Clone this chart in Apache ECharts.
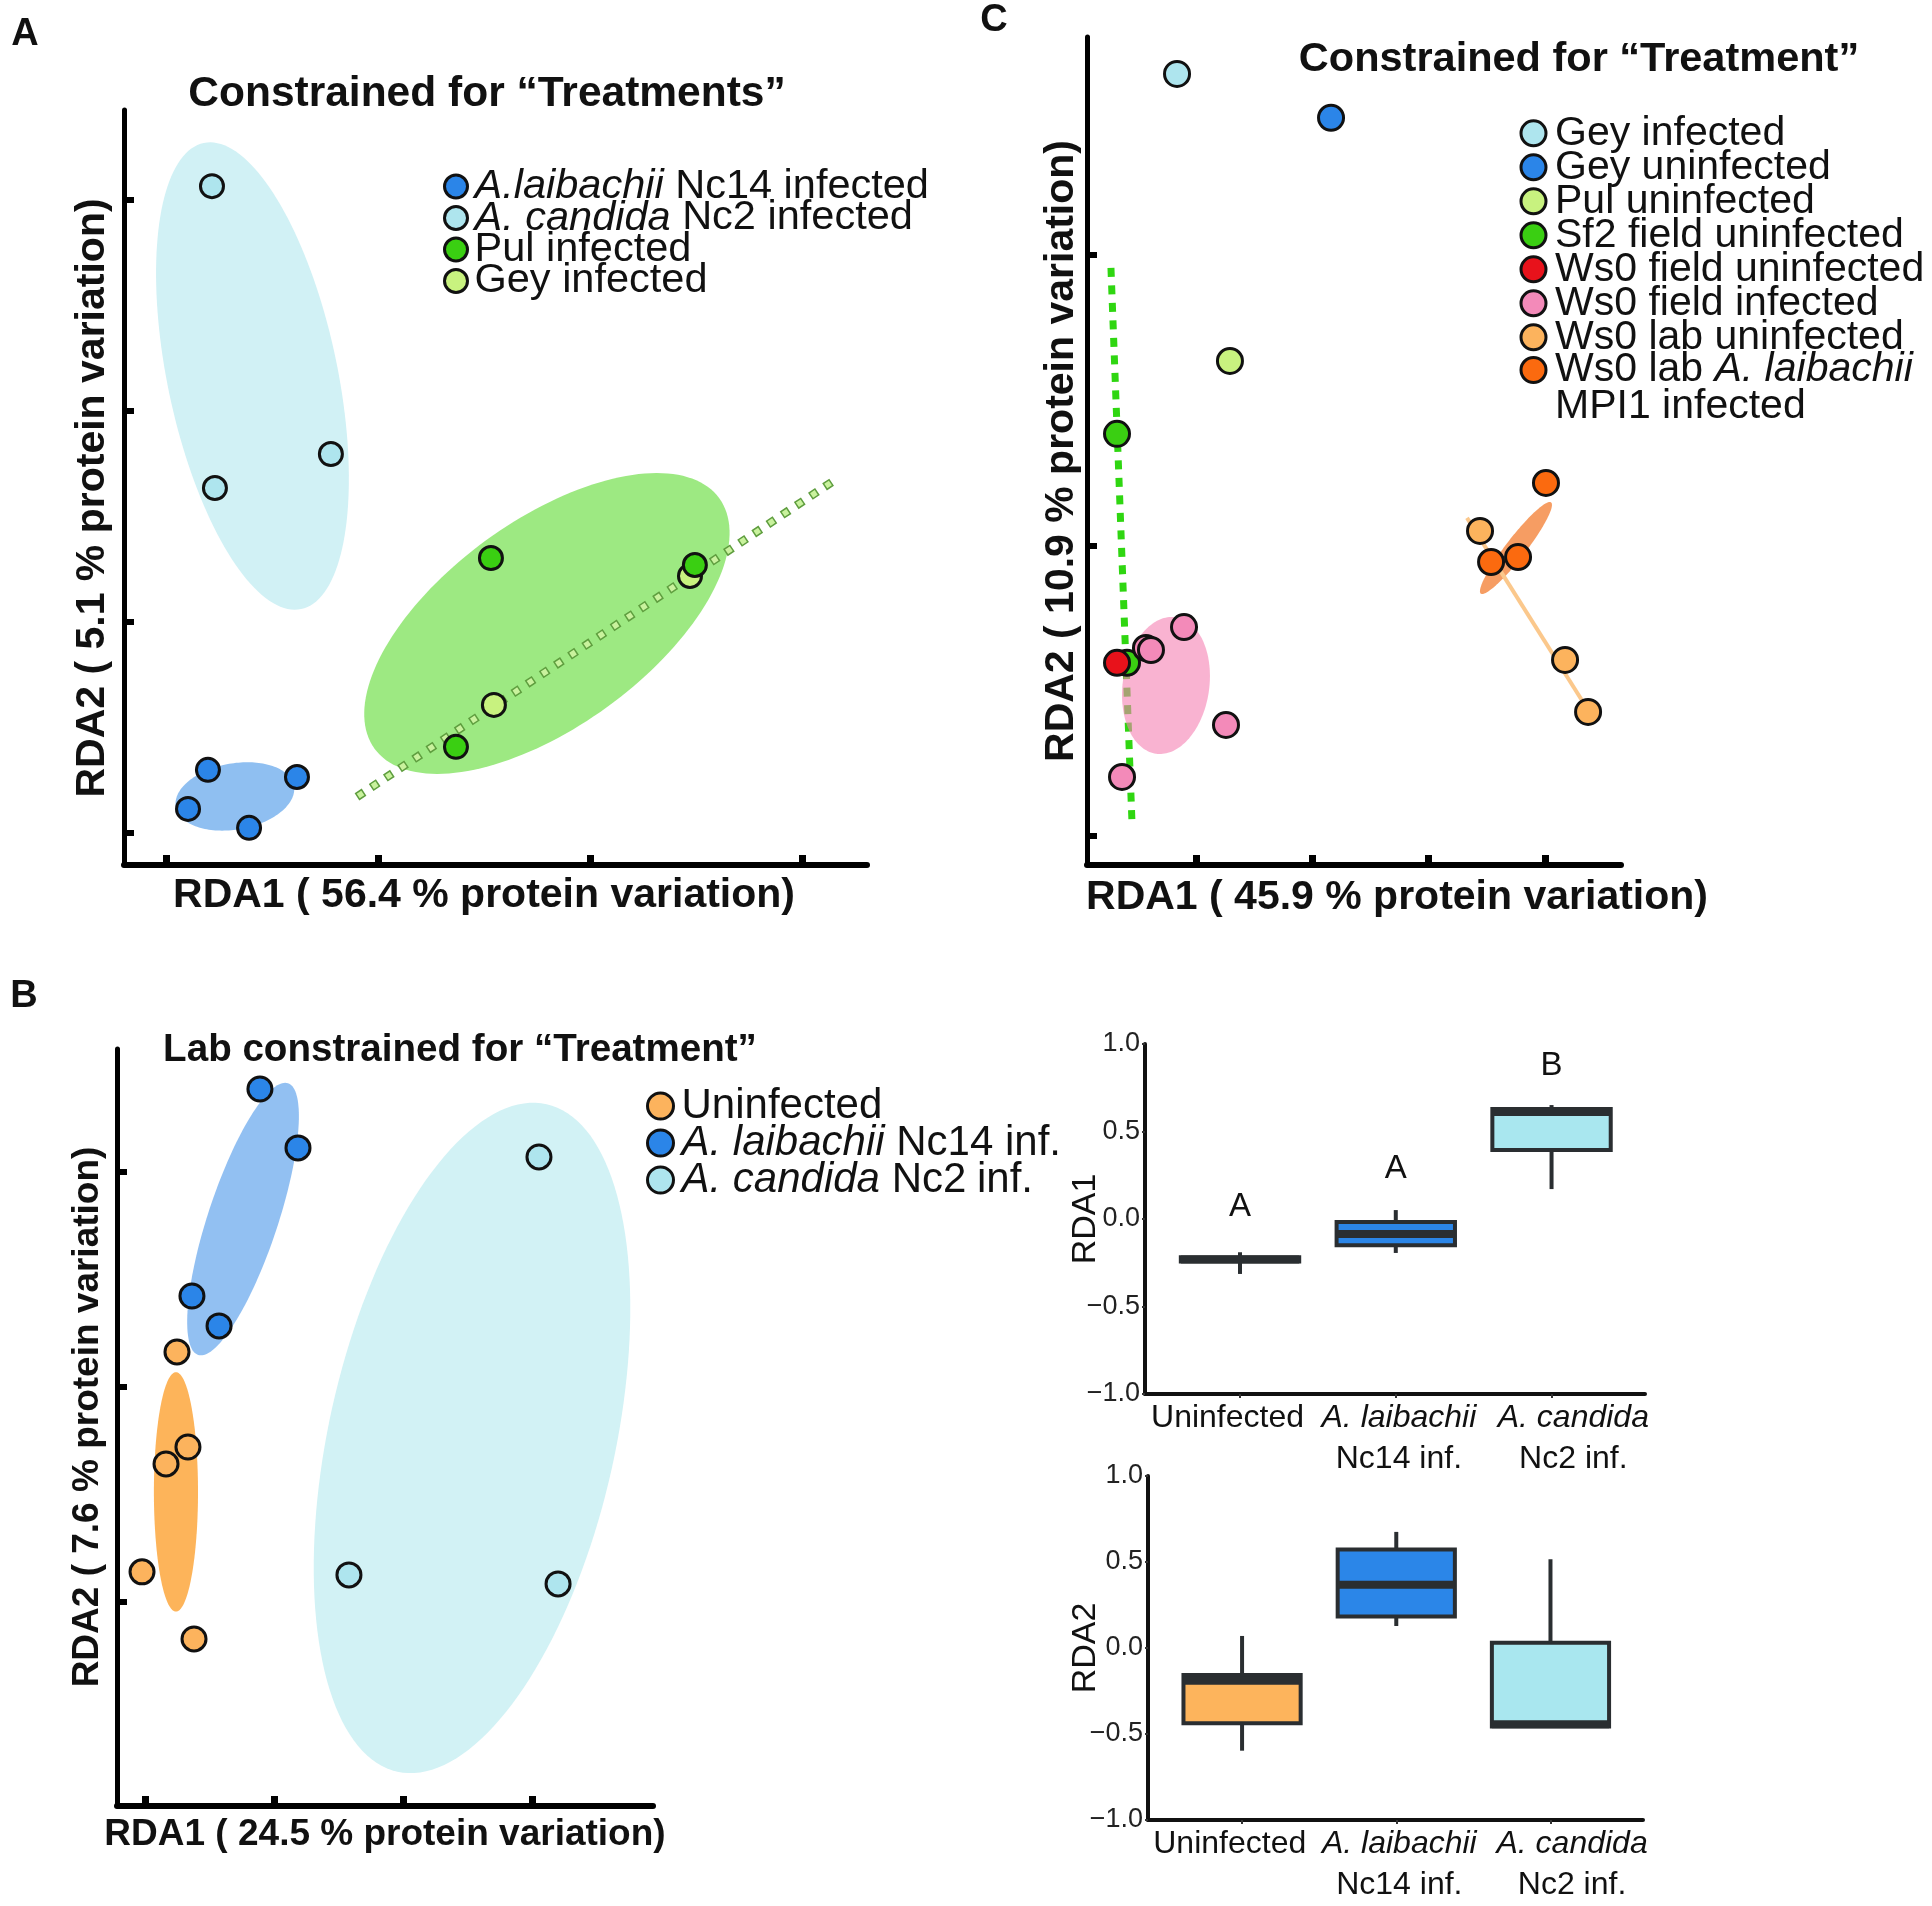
<!DOCTYPE html>
<html><head><meta charset="utf-8">
<script src="https://cdn.jsdelivr.net/npm/echarts@6/dist/echarts.min.js"></script>
<style>html,body{margin:0;padding:0;background:#fff}#chart{width:1933px;height:1907px}</style>
</head><body><div id="chart"></div>
<script>
// ================= DATA =================
// ---- Panel A : Constrained for "Treatments" ----
const aNames = ['A.laibachii Nc14 infected', 'A. candida Nc2 infected', 'Pul infected', 'Gey infected'];
const aLegendText = ['{i|A.laibachii} Nc14 infected', '{i|A. candida} Nc2 infected', 'Pul infected', 'Gey infected'];
const aLaibachii = [[0.198, 0.299], [0.618, 0.265], [0.104, 0.114], [0.392, 0.024]];
const aCandida = [[0.217, 3.066], [0.778, 1.796], [0.231, 1.635]];
const aPul = [[1.533, 1.303], [2.495, 1.270], [1.368, 0.408]];
const aGey = [[1.547, 0.607], [2.472, 1.218]];
// ellipses: [centerX, centerY, semiMajor, semiMinor, angle(deg)]
const aEllipses = [[0.408, 2.166, 1.123, 0.401, 78.2], [0.325, 0.173, 0.283, 0.156, -10], [1.797, 0.993, 1.005, 0.486, -36]];
const aTrend = [[0.901, 0.171], [3.142, 1.664]];
const aTicksX = [0, 1, 2, 3];
const aTicksY = [0, 1, 2, 3];

// ---- Panel C : Constrained for "Treatment" ----
const cNames = ['Gey infected', 'Gey uninfected', 'Pul uninfected', 'Sf2 field uninfected', 'Ws0 field uninfected',
  'Ws0 field infected', 'Ws0 lab uninfected', 'Ws0 lab A. laibachii MPI1 infected'];
const cLegendText = ['Gey infected', 'Gey uninfected', 'Pul uninfected', 'Sf2 field uninfected', 'Ws0 field uninfected',
  'Ws0 field infected', 'Ws0 lab uninfected', 'Ws0 lab {i|A. laibachii}\nMPI1 infected'];
const cGeyInf = [[-0.163, 2.623]];
const cGeyUninf = [[1.161, 2.472]];
const cPulUninf = [[0.292, 1.635]];
const cSf2Uninf = [[-0.679, 1.384], [-0.593, 0.596]];
const cWs0FieldUninf = [[-0.679, 0.596]];
const cWs0FieldInf = [[-0.430, 0.647], [-0.387, 0.640], [-0.103, 0.719], [0.258, 0.382], [-0.636, 0.203]];
const cWs0LabUninf = [[2.442, 1.050], [3.173, 0.606], [3.371, 0.427]];
const cWs0LabInf = [[3.009, 1.215], [2.537, 0.943], [2.769, 0.960]];
const cEllipses = [[-0.258, 0.518, 0.593, 0.372, -81.7], [2.751, 0.991, 0.495, 0.086, -52.4]];
const cSf2Trend = [[-0.731, 1.955], [-0.550, 0.045]];
const cLabUninfTrend = [[2.330, 1.095], [3.414, 0.406]];
const cTicksX = [0, 1, 2, 3];
const cTicksY = [0, 1, 2];

// ---- Panel B : Lab constrained for "Treatment" ----
const bNames = ['Uninfected', 'A. laibachii Nc14 inf.', 'A. candida Nc2 inf.'];
const bLegendText = ['Uninfected', '{i|A. laibachii} Nc14 inf.', '{i|A. candida} Nc2 inf.'];
const bUninf = [[0.248, 1.163], [0.333, 0.721], [0.163, 0.642], [-0.023, 0.140], [0.380, -0.172]];
const bLaibachii = [[0.891, 2.386], [1.186, 2.112], [0.364, 1.423], [0.574, 1.284]];
const bCandida = [[3.054, 2.070], [1.581, 0.126], [3.202, 0.084]];
const bEllipses = [[0.240, 0.512, 0.928, 0.171, 90], [0.760, 1.781, 1.109, 0.271, -71.7], [2.535, 0.763, 2.651, 1.109, -77.4]];
const bTicksX = [0, 1, 2, 3];
const bTicksY = [0, 1, 2];

// ---- Box plots ----
const boxCatLine1 = ['Uninfected', 'A. laibachii', 'A. candida'];
const boxCatLine2 = ['', 'Nc14 inf.', 'Nc2 inf.'];
const boxPositions = [1, 2, 3];
// [min, Q1, median, Q3, max]
const rda1Box = [[-0.314, -0.243, -0.231, -0.219, -0.190], [-0.194, -0.150, -0.085, -0.017, 0.051], [0.171, 0.394, 0.611, 0.629, 0.651]];
const rda2Box = [[-0.597, -0.437, -0.191, -0.157, 0.070], [0.128, 0.183, 0.368, 0.573, 0.675], [-0.456, -0.456, -0.443, 0.030, 0.516]];
const rda1Letters = ['A', 'A', 'B'];
const rda1LetterY = [0.071, 0.289, 0.874];

// ================= STYLE =================
const FONT = '"Liberation Sans", Arial, Helvetica, sans-serif';
const TXT = '#111';
const COL = {
  lightBlue: '#aee5ee', blue: '#2b85e8', green: '#3acf12', lightGreen: '#c8f27f', red: '#e8121b',
  pink: '#f38ab9', lightOrange: '#fcb35d', orange: '#fb6a0f'
};
const BOX_EDGE = '#2a2e31';
const BOX_WIDTH = 0.76;
const BOX_LABEL_SHIFT = [-0.08, 0.02, 0.14];   // label anchor offset (layout only)

function ellipseRender(params, api) {
  const c = api.coord([api.value(0), api.value(1)]);
  const s = api.size([1, 1]);
  const a = api.value(2) * s[0], b = api.value(3) * s[0];
  const ang = api.value(4) * Math.PI / 180;
  const pts = [];
  const N = 160;
  for (let k = 0; k < N; k++) {
    const t = 2 * Math.PI * k / N;
    pts.push([c[0] + a * Math.cos(t) * Math.cos(ang) - b * Math.sin(t) * Math.sin(ang),
              c[1] + a * Math.cos(t) * Math.sin(ang) + b * Math.sin(t) * Math.cos(ang)]);
  }
  return { type: 'polygon', shape: { points: pts }, style: { fill: api.visual('color') } };
}
function ellipseSeries(grid, list, colors, z) {
  return {
    type: 'custom', xAxisIndex: grid, yAxisIndex: grid, silent: true, z: z || 1,
    renderItem: ellipseRender,
    data: list.map((e, i) => ({ value: e, itemStyle: { color: colors[i] } }))
  };
}
function scatter(prefix, name, data, grid, color, size) {
  return {
    type: 'scatter', name: prefix + name, xAxisIndex: grid, yAxisIndex: grid, data,
    symbol: 'circle', symbolSize: size, silent: true, z: 5,
    itemStyle: { color, borderColor: '#111', borderWidth: 3, opacity: 1 }
  };
}
function boxRender(params, api) {
  const x = api.value(0);
  const yMin = api.coord([x, api.value(1)])[1];
  const yQ1 = api.coord([x, api.value(2)])[1];
  const yMd = api.coord([x, api.value(3)])[1];
  const yQ3 = api.coord([x, api.value(4)])[1];
  const yMax = api.coord([x, api.value(5)])[1];
  const cx = api.coord([x, 0])[0];
  const half = api.size([BOX_WIDTH, 0])[0] / 2;
  const ls = { stroke: BOX_EDGE, lineWidth: 4 };
  return {
    type: 'group', children: [
      { type: 'line', shape: { x1: cx, y1: yMax, x2: cx, y2: yQ3 }, style: ls },
      { type: 'line', shape: { x1: cx, y1: yQ1, x2: cx, y2: yMin }, style: ls },
      { type: 'rect', shape: { x: cx - half, y: yQ3, width: 2 * half, height: yQ1 - yQ3 },
        style: { fill: api.visual('color'), stroke: BOX_EDGE, lineWidth: 4 } },
      { type: 'line', shape: { x1: cx - half, y1: yMd, x2: cx + half, y2: yMd }, style: { stroke: BOX_EDGE, lineWidth: 8 } }
    ]
  };
}
function boxSeries(grid, stats, colors) {
  return {
    type: 'custom', xAxisIndex: grid, yAxisIndex: grid, silent: true, renderItem: boxRender,
    data: stats.map((s, i) => ({ value: [boxPositions[i]].concat(s), itemStyle: { color: colors[i] } }))
  };
}

function scatterX(gi, min, max, ticks, name, fs, gap, pad) {
  return {
    gridIndex: gi, type: 'value', min, max, splitLine: { show: false }, axisLabel: { show: false },
    axisLine: { show: true, onZero: false, lineStyle: { color: '#000', width: 6 } },
    axisTick: { show: true, inside: true, length: 10, customValues: ticks, lineStyle: { color: '#000', width: 7 } },
    name, nameLocation: 'middle', nameGap: gap, nameMoveOverlap: false,
    nameTextStyle: { fontSize: fs, fontWeight: 'bold', fontFamily: FONT, color: TXT, padding: pad }
  };
}
function scatterY(gi, min, max, ticks, name, fs, gap, pad) {
  return {
    gridIndex: gi, type: 'value', min, max, splitLine: { show: false }, axisLabel: { show: false },
    axisLine: { show: true, onZero: false, lineStyle: { color: '#000', width: 5 } },
    axisTick: { show: true, inside: true, length: 10, customValues: ticks, lineStyle: { color: '#000', width: 6 } },
    name, nameLocation: 'middle', nameGap: gap, nameMoveOverlap: false,
    nameTextStyle: { fontSize: fs, fontWeight: 'bold', fontFamily: FONT, color: TXT, padding: pad }
  };
}
const fmtNum = v => (v < 0 ? '\u2212' : '') + Math.abs(v).toFixed(1);
function boxLabel(v) {
  const i = Math.round(v) - 1;
  const l1 = i === 0 ? boxCatLine1[i] : `{i|${boxCatLine1[i]}}`;
  return boxCatLine2[i] ? `${l1}\n${boxCatLine2[i]}` : l1;
}
function boxX(gi) {
  return {
    gridIndex: gi, type: 'value', min: 0.39, max: 3.6, splitLine: { show: false },
    axisLine: { show: true, onZero: false, lineStyle: { color: '#111', width: 4 } },
    axisTick: { show: true, length: 4, customValues: boxPositions, lineStyle: { color: '#333', width: 2 } },
    axisLabel: {
      customValues: boxPositions.map((p, i) => p + BOX_LABEL_SHIFT[i]), margin: 4, formatter: boxLabel,
      hideOverlap: false,
      fontSize: 32, fontFamily: FONT, color: TXT, lineHeight: 41,
      rich: { i: { fontStyle: 'italic', fontSize: 32, fontFamily: FONT, color: TXT, lineHeight: 41 } }
    }
  };
}
function boxY(gi, name, gap) {
  return {
    gridIndex: gi, type: 'value', min: -1, max: 1, interval: 0.5, splitLine: { show: false },
    axisLine: { show: true, onZero: false, lineStyle: { color: '#111', width: 4 } },
    axisTick: { show: true, length: 3, lineStyle: { color: '#333', width: 2 } },
    axisLabel: { formatter: fmtNum, fontSize: 27, fontFamily: FONT, color: '#222', margin: 5 },
    name, nameLocation: 'middle', nameGap: gap, nameMoveOverlap: false,
    nameTextStyle: { fontSize: 34, fontFamily: FONT, color: TXT }
  };
}
function legendBlock(prefix, names, texts, left, top, size, gap, fs) {
  const map = {};
  names.forEach((n, i) => { map[prefix + n] = texts[i]; });
  return {
    orient: 'vertical', left, top, padding: 0, itemWidth: size, itemHeight: size, itemGap: gap,
    icon: 'circle', selectedMode: false, data: names.map(n => prefix + n),
    formatter: n => map[n],
    itemStyle: { borderColor: '#111', borderWidth: 3 },
    textStyle: {
      fontSize: fs, fontFamily: FONT, color: TXT, lineHeight: size,
      rich: { i: { fontStyle: 'italic', fontSize: fs, fontFamily: FONT, color: TXT, lineHeight: size } }
    }
  };
}
function gText(x, y, text, font) {
  return {
    type: 'text', x, y, silent: true,
    style: { text, font, fill: TXT, textAlign: 'center', textVerticalAlign: 'middle', align: 'center', verticalAlign: 'middle' }
  };
}

const legA = legendBlock('A:', aNames, aLegendText, 443, 165.5, 23, -10.5, 41.5);
legA.textStyle.padding = [0, 0, 0, 2];
const legC1 = legendBlock('C:', cNames.slice(0, 7), cLegendText.slice(0, 7), 1520.5, 112.8, 25, -7, 41);
legC1.textStyle.padding = [0, 0, 0, 4];
const legC2 = legendBlock('C:', cNames.slice(7), cLegendText.slice(7), 1520.5, 314.5, 25, 0, 41);
legC2.textStyle.lineHeight = 37;
legC2.textStyle.padding = [37, 0, 0, 4];
legC2.textStyle.rich.i.lineHeight = 37;
const legB = legendBlock('B:', bNames, bLegendText, 646, 1086, 26, -5, 42);
legB.textStyle.padding = [0, 0, 0, 3];

const option = {
  animation: false,
  backgroundColor: '#fff',
  grid: [
    { left: 124, top: 110, width: 743, height: 755 },
    { left: 1088, top: 37, width: 534, height: 828 },
    { left: 117, top: 1050, width: 536, height: 757 },
    { left: 1146, top: 1045, width: 500, height: 350 },
    { left: 1149, top: 1477, width: 495, height: 347 }
  ],
  xAxis: [
    scatterX(0, -0.198, 3.307, aTicksX, 'RDA1 ( 56.4 % protein variation)', 41, 10, [0, 23, 0, 0]),
    scatterX(1, -0.937, 3.654, cTicksX, 'RDA1 ( 45.9 % protein variation)', 41, 12, [0, 0, 0, 86]),
    scatterX(2, -0.217, 3.938, bTicksX, 'RDA1 ( 24.5 % protein variation)', 37, 10, [0, 0, 0, 0]),
    boxX(3), boxX(4)
  ],
  yAxis: [
    scatterY(0, -0.152, 3.427, aTicksY, 'RDA2 ( 5.1 % protein variation)', 41, 11, [0, 21, 0, 0]),
    scatterY(1, -0.100, 2.750, cTicksY, 'RDA2 ( 10.9 % protein variation)', 41, 5, [0, 0, 0, 0]),
    scatterY(2, -0.949, 2.572, bTicksY, 'RDA2 ( 7.6 % protein variation)', 37, 11, [0, 0, 0, 21]),
    boxY(3, 'RDA1', 42), boxY(4, 'RDA2', 45)
  ],
  legend: [legA, legC1, legC2, legB],
  graphic: { elements: [
    gText(25, 34.4, 'A', `bold 38px ${FONT}`),
    gText(24, 997.8, 'B', `bold 38px ${FONT}`),
    gText(995, 20.4, 'C', `bold 38px ${FONT}`),
    gText(487, 94.4, 'Constrained for \u201cTreatments\u201d', `bold 42.5px ${FONT}`),
    gText(1580, 59.4, 'Constrained for \u201cTreatment\u201d', `bold 41.5px ${FONT}`),
    gText(460, 1051.8, 'Lab constrained for \u201cTreatment\u201d', `bold 38.6px ${FONT}`)
  ] },
  series: [
    // ---- A ----
    ellipseSeries(0, aEllipses, ['#d1f1f5', '#8fbff1', '#9de982']),
    { type: 'line', xAxisIndex: 0, yAxisIndex: 0, data: aTrend, symbol: 'none', silent: true, z: 2,
      lineStyle: { color: '#5f9e3f', width: 8.5, type: [8.5, 8.5] } },
    { type: 'line', xAxisIndex: 0, yAxisIndex: 0, data: aTrend, symbol: 'none', silent: true, z: 3,
      lineStyle: { color: '#c9f29d', width: 5.5, type: [5.5, 11.5], dashOffset: -1.5 } },
    scatter('A:', aNames[0], aLaibachii, 0, COL.blue, 23),
    scatter('A:', aNames[1], aCandida, 0, COL.lightBlue, 23),
    scatter('A:', aNames[3], aGey, 0, COL.lightGreen, 23),
    scatter('A:', aNames[2], aPul, 0, COL.green, 23),
    // ---- C ----
    { type: 'line', xAxisIndex: 1, yAxisIndex: 1, data: cSf2Trend, symbol: 'none', silent: true, z: 1,
      lineStyle: { color: '#2fd611', width: 7, type: [9, 8.5] } },
    ellipseSeries(1, cEllipses, ['rgba(245,128,178,0.6)', '#f69d63'], 2),
    { type: 'line', xAxisIndex: 1, yAxisIndex: 1, data: cLabUninfTrend, symbol: 'none', silent: true, z: 3,
      lineStyle: { color: '#fbc88c', width: 4 } },
    scatter('C:', cNames[0], cGeyInf, 1, COL.lightBlue, 25),
    scatter('C:', cNames[1], cGeyUninf, 1, COL.blue, 25),
    scatter('C:', cNames[2], cPulUninf, 1, COL.lightGreen, 25),
    scatter('C:', cNames[3], cSf2Uninf, 1, COL.green, 25),
    scatter('C:', cNames[4], cWs0FieldUninf, 1, COL.red, 25),
    scatter('C:', cNames[5], cWs0FieldInf, 1, COL.pink, 25),
    scatter('C:', cNames[6], cWs0LabUninf, 1, COL.lightOrange, 25),
    scatter('C:', cNames[7], cWs0LabInf, 1, COL.orange, 25),
    // ---- B ----
    ellipseSeries(2, bEllipses, ['#fdb45a', '#92c0f2', '#d2f2f5']),
    scatter('B:', bNames[0], bUninf, 2, COL.lightOrange, 24),
    scatter('B:', bNames[1], bLaibachii, 2, COL.blue, 24),
    scatter('B:', bNames[2], bCandida, 2, COL.lightBlue, 24),
    // ---- Box plots ----
    boxSeries(3, rda1Box, ['#fdb45c', '#2b86e8', '#a9e7ef']),
    boxSeries(4, rda2Box, ['#fdb45c', '#2b86e8', '#a9e7ef']),
    { type: 'custom', xAxisIndex: 3, yAxisIndex: 3, silent: true,
      data: boxPositions.map((p, i) => [p, rda1LetterY[i]]),
      renderItem: (params, api) => {
        const p = api.coord([api.value(0), api.value(1)]);
        return { type: 'text', x: p[0], y: p[1], style: { text: rda1Letters[params.dataIndex], font: `33px ${FONT}`, fill: TXT,
          textAlign: 'center', textVerticalAlign: 'middle', align: 'center', verticalAlign: 'middle' } };
      } }
  ]
};
const chart = echarts.init(document.getElementById('chart'), null, { renderer: 'canvas', width: 1933, height: 1907 });
chart.setOption(option);
</script>
</body></html>
